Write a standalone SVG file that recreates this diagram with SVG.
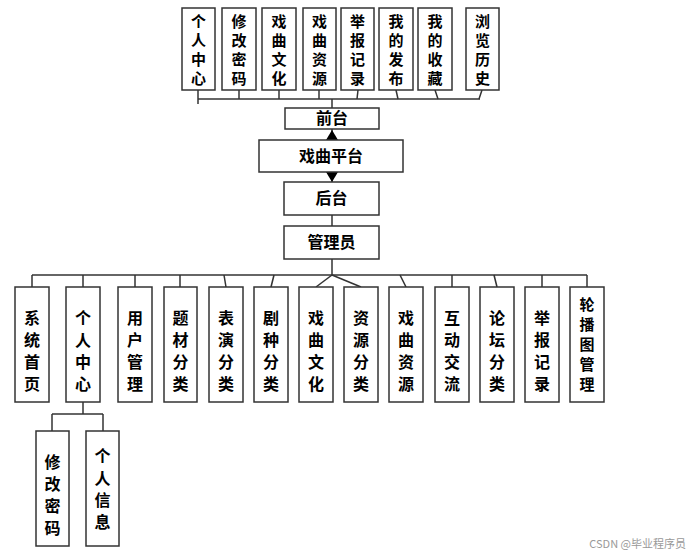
<svg xmlns="http://www.w3.org/2000/svg" width="698" height="558" viewBox="0 0 698 558">
<style>
rect{fill:#fff;stroke:#333;stroke-width:1.5}
text{font-family:"Noto Sans CJK SC",sans-serif;font-size:16px;font-weight:bold;fill:#000;text-anchor:middle}
#top text,#b13 text{font-size:15px}
.c line,.c polyline{stroke:#333;stroke-width:1.5;fill:none}
</style>
<rect width="698" height="558" style="fill:#fff;stroke:none"/>
<g class="c">
<line x1="198" y1="99" x2="480" y2="99"/>
<line x1="198" y1="90" x2="198" y2="104"/><line x1="239" y1="90" x2="239" y2="99"/><line x1="279" y1="90" x2="279" y2="99"/><line x1="319" y1="90" x2="319" y2="99"/><line x1="358" y1="90" x2="357" y2="99"/><line x1="396" y1="90" x2="398" y2="99"/><line x1="435" y1="90" x2="438" y2="99"/><line x1="482" y1="90" x2="479" y2="99"/>
<line x1="332" y1="99" x2="332" y2="108"/>
<line x1="332" y1="129" x2="332" y2="140"/><polygon points="326,140 338,140 332,130" fill="#000"/>
<line x1="332" y1="172" x2="332" y2="182"/><polygon points="326,172 338,172 332,182" fill="#000"/>
<line x1="332" y1="215" x2="332" y2="226"/>
<line x1="332" y1="259" x2="332" y2="275"/>
<line x1="32" y1="275" x2="587" y2="275"/>
<line x1="32" y1="275" x2="32" y2="287"/><line x1="83" y1="275" x2="83" y2="287"/><line x1="135" y1="275" x2="135" y2="287"/><line x1="180" y1="275" x2="180" y2="287"/><line x1="224" y1="275" x2="226" y2="287"/><line x1="274" y1="275" x2="271" y2="287"/><line x1="332" y1="275" x2="316" y2="287"/><line x1="332" y1="275" x2="361" y2="287"/><line x1="400" y1="275" x2="406" y2="287"/><line x1="452" y1="275" x2="452" y2="287"/><line x1="494" y1="275" x2="497" y2="287"/><line x1="542" y1="275" x2="542" y2="287"/><line x1="587" y1="275" x2="587" y2="287"/>
<line x1="83" y1="402" x2="83" y2="414"/><line x1="52" y1="414" x2="103" y2="414"/><line x1="52" y1="414" x2="52" y2="431"/><line x1="103" y1="414" x2="103" y2="431"/>
</g>
<g id="top">
<g id="t1"><rect x="182" y="8" width="33" height="82"/><text x="198.5" y="27">个</text><text x="198.5" y="46">人</text><text x="198.5" y="65">中</text><text x="198.5" y="84">心</text></g>
<g id="t2"><rect x="222" y="8" width="34" height="82"/><text x="239" y="27">修</text><text x="239" y="46">改</text><text x="239" y="65">密</text><text x="239" y="84">码</text></g>
<g id="t3"><rect x="262" y="8" width="34" height="82"/><text x="279" y="27">戏</text><text x="279" y="46">曲</text><text x="279" y="65">文</text><text x="279" y="84">化</text></g>
<g id="t4"><rect x="303" y="8" width="33" height="82"/><text x="319.5" y="27">戏</text><text x="319.5" y="46">曲</text><text x="319.5" y="65">资</text><text x="319.5" y="84">源</text></g>
<g id="t5"><rect x="341" y="8" width="33" height="82"/><text x="357.5" y="27">举</text><text x="357.5" y="46">报</text><text x="357.5" y="65">记</text><text x="357.5" y="84">录</text></g>
<g id="t6"><rect x="379" y="8" width="34" height="82"/><text x="396" y="27">我</text><text x="396" y="46">的</text><text x="396" y="65">发</text><text x="396" y="84">布</text></g>
<g id="t7"><rect x="418" y="8" width="34" height="82"/><text x="435" y="27">我</text><text x="435" y="46">的</text><text x="435" y="65">收</text><text x="435" y="84">藏</text></g>
<g id="t8"><rect x="466" y="8" width="33" height="82"/><text x="482.5" y="27">浏</text><text x="482.5" y="46">览</text><text x="482.5" y="65">历</text><text x="482.5" y="84">史</text></g>
</g>
<g id="qiantai"><rect x="285" y="108" width="94" height="21"/><text x="332" y="124">前台</text></g>
<g id="pingtai"><rect x="259" y="140" width="144" height="32"/><text x="331" y="162">戏曲平台</text></g>
<g id="houtai"><rect x="284" y="182" width="95" height="33"/><text x="331.5" y="204">后台</text></g>
<g id="admin"><rect x="284" y="226" width="95" height="33"/><text x="331.5" y="248">管理员</text></g>
<g id="bottom">
<g id="b1"><rect x="15" y="287" width="34" height="115"/><text x="32" y="324">系</text><text x="32" y="346">统</text><text x="32" y="368">首</text><text x="32" y="390">页</text></g>
<g id="b2"><rect x="66" y="287" width="34" height="115"/><text x="83" y="324">个</text><text x="83" y="346">人</text><text x="83" y="368">中</text><text x="83" y="390">心</text></g>
<g id="b3"><rect x="118" y="287" width="34" height="115"/><text x="135" y="324">用</text><text x="135" y="346">户</text><text x="135" y="368">管</text><text x="135" y="390">理</text></g>
<g id="b4"><rect x="164" y="287" width="33" height="115"/><text x="180.5" y="324">题</text><text x="180.5" y="346">材</text><text x="180.5" y="368">分</text><text x="180.5" y="390">类</text></g>
<g id="b5"><rect x="209" y="287" width="34" height="115"/><text x="226" y="324">表</text><text x="226" y="346">演</text><text x="226" y="368">分</text><text x="226" y="390">类</text></g>
<g id="b6"><rect x="254" y="287" width="34" height="115"/><text x="271" y="324">剧</text><text x="271" y="346">种</text><text x="271" y="368">分</text><text x="271" y="390">类</text></g>
<g id="b7"><rect x="299" y="287" width="34" height="115"/><text x="316" y="324">戏</text><text x="316" y="346">曲</text><text x="316" y="368">文</text><text x="316" y="390">化</text></g>
<g id="b8"><rect x="344" y="287" width="34" height="115"/><text x="361" y="324">资</text><text x="361" y="346">源</text><text x="361" y="368">分</text><text x="361" y="390">类</text></g>
<g id="b9"><rect x="389" y="287" width="34" height="115"/><text x="406" y="324">戏</text><text x="406" y="346">曲</text><text x="406" y="368">资</text><text x="406" y="390">源</text></g>
<g id="b10"><rect x="435" y="287" width="34" height="115"/><text x="452" y="324">互</text><text x="452" y="346">动</text><text x="452" y="368">交</text><text x="452" y="390">流</text></g>
<g id="b11"><rect x="480" y="287" width="34" height="115"/><text x="497" y="324">论</text><text x="497" y="346">坛</text><text x="497" y="368">分</text><text x="497" y="390">类</text></g>
<g id="b12"><rect x="525" y="287" width="34" height="115"/><text x="542" y="324">举</text><text x="542" y="346">报</text><text x="542" y="368">记</text><text x="542" y="390">录</text></g>
<g id="b13"><rect x="570" y="287" width="34" height="115"/><text x="587" y="310">轮</text><text x="587" y="330">播</text><text x="587" y="350">图</text><text x="587" y="370">管</text><text x="587" y="390">理</text></g>
</g>
<g id="sub">
<g id="s1"><rect x="36" y="431" width="33" height="115"/><text x="52.5" y="468">修</text><text x="52.5" y="490">改</text><text x="52.5" y="512">密</text><text x="52.5" y="534">码</text></g>
<g id="s2"><rect x="86" y="431" width="33" height="115"/><text x="102.5" y="462">个</text><text x="102.5" y="484">人</text><text x="102.5" y="506">信</text><text x="102.5" y="528">息</text></g>
</g>
<text x="686" y="548" style="font-size:11px;font-weight:normal;fill:#999;text-anchor:end">CSDN @毕业程序员</text>
</svg>
